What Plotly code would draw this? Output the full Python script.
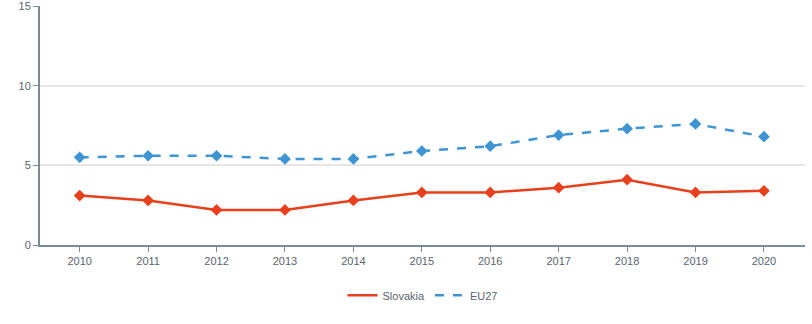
import plotly.graph_objects as go

years = [2010, 2011, 2012, 2013, 2014, 2015, 2016, 2017, 2018, 2019, 2020]
slovakia = [3.1, 2.8, 2.2, 2.2, 2.8, 3.3, 3.3, 3.6, 4.1, 3.3, 3.4]
eu27 = [5.5, 5.6, 5.6, 5.4, 5.4, 5.9, 6.2, 6.9, 7.3, 7.6, 6.8]
y_ticks = [0, 5, 10, 15]

RED = "#e8401c"
BLUE = "#3f95d4"

fig = go.Figure()
# lines (shown in legend)
fig.add_trace(go.Scatter(x=years, y=slovakia, name="Slovakia", mode="lines",
                         line=dict(color=RED, width=2.5)))
fig.add_trace(go.Scatter(x=years, y=eu27, name="EU27", mode="lines",
                         line=dict(color=BLUE, width=2.5, dash="dash")))
# markers (not in legend)
fig.add_trace(go.Scatter(x=years, y=slovakia, mode="markers", showlegend=False,
                         marker=dict(symbol="diamond", size=9, color=RED)))
fig.add_trace(go.Scatter(x=years, y=eu27, mode="markers", showlegend=False,
                         marker=dict(symbol="diamond", size=9, color=BLUE)))

fig.update_layout(
    width=812, height=324,
    margin=dict(l=40, r=7, t=6, b=79, autoexpand=False),
    paper_bgcolor="white", plot_bgcolor="white",
    font=dict(family="Liberation Sans, Arial", size=11, color="#5a6470"),
    showlegend=True,
    legend=dict(orientation="h", x=0.5, xanchor="center", y=-0.15, yanchor="top",
                font=dict(size=11, color="#5a6470"), itemwidth=30),
    xaxis=dict(range=[2009.42, 2020.6], tickmode="array", tickvals=years,
               showgrid=False, showline=True, linecolor="#7d8b96", linewidth=2,
               ticks="outside", ticklen=5, tickcolor="#7d8b96", zeroline=False),
    yaxis=dict(range=[0, 15], tickvals=y_ticks, showgrid=True, gridcolor="#e6e6e6",
               gridwidth=1.5, showline=True, linecolor="#7d8b96", linewidth=2,
               ticks="outside", ticklen=5, tickcolor="#7d8b96", zeroline=False,
               ticklabeloverflow="allow"),
)

fig.write_html("out.html")
